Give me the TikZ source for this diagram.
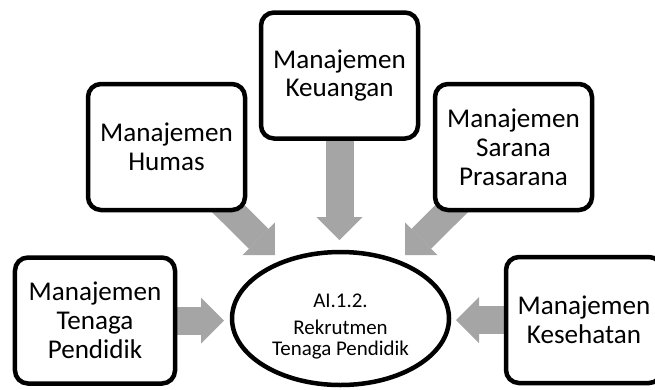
\documentclass[tikz,border=0pt]{standalone}
\usepackage{fontspec}
\setmainfont{Carlito}
\usetikzlibrary{arrows.meta,shapes.geometric,backgrounds}
\definecolor{arrgray}{HTML}{A5A5A5}
\begin{document}
\begin{tikzpicture}[x=1bp,y=-1bp,
  box/.style={draw=black,line width=4.5bp,rounded corners=13bp,fill=white,
    minimum width=157bp,minimum height=126bp,align=center,inner sep=0pt,
    font=\fontsize{27.2}{29}\selectfont},
  ellnode/.style={ellipse,draw=black,line width=4.5bp,fill=white,
    minimum width=217bp,minimum height=133bp,inner sep=0pt},
  elltext/.style={align=center,inner sep=0pt,font=\fontsize{21}{21.5}\selectfont},
  blk/.style={draw=arrgray,line width=28bp,
    -{Triangle[length=23bp,width=46bp,line width=0pt]}}
]
\useasboundingbox (0,0) rectangle (655,389);
\begin{scope}
\clip (0,0) rectangle (655,389);
\node[box] (humas) at (166.5,147) {Manajemen\\Humas};
\node[box] (keu) at (339.5,75.5) {Manajemen\\Keuangan};
\node[box] (sar) at (513.5,147) {Manajemen\\Sarana\\Prasarana};
\node[box,minimum width=160bp] (ten) at (95,320.5) {Manajemen\\Tenaga\\Pendidik};
\node[box,minimum width=156bp] (kes) at (584,320) {Manajemen\\Kesehatan};
\node[ellnode] (ell) at (340.5,318.5) {};
\node[elltext] (ellt) at (340.5,326.5) {AI.1.2.\\[5.5bp]Rekrutmen\\Tenaga Pendidik};
\end{scope}
\coordinate (tipH) at (275,255);
\coordinate (tipK) at (339.5,240);
\coordinate (tipS) at (405,255);
\coordinate (tipT) at (224,320.5);
\coordinate (tipE) at (456,320);
\begin{scope}[on background layer]
\draw[blk] (humas.center) -- (tipH);
\draw[blk] (keu.center) -- (tipK);
\draw[blk] (sar.center) -- (tipS);
\draw[blk] (ten.center) -- (tipT);
\draw[blk] (kes.center) -- (tipE);
\end{scope}
\end{tikzpicture}
\end{document}
